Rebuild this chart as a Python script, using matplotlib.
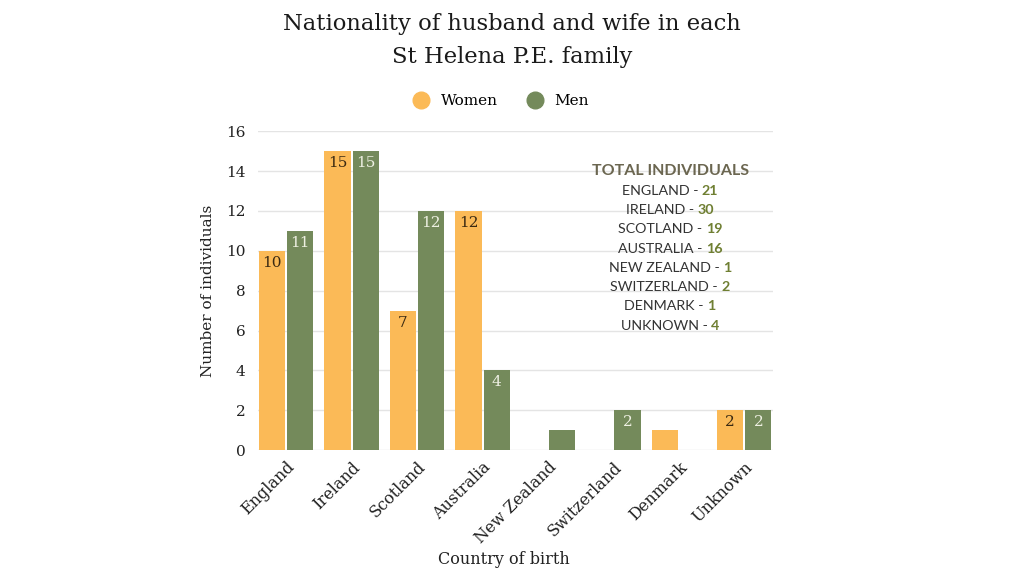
import numpy as np
import matplotlib
matplotlib.use('Agg')
import matplotlib.pyplot as plt
from matplotlib.lines import Line2D
from matplotlib.offsetbox import TextArea, HPacker, VPacker, AnnotationBbox

countries = ['England', 'Ireland', 'Scotland', 'Australia', 'New Zealand',
             'Switzerland', 'Denmark', 'Unknown']
women = [10, 15, 7, 12, 0, 0, 1, 2]
men = [11, 15, 12, 4, 1, 2, 0, 2]
totals_names = ['ENGLAND', 'IRELAND', 'SCOTLAND', 'AUSTRALIA', 'NEW ZEALAND',
                'SWITZERLAND', 'DENMARK', 'UNKNOWN']
totals = [21, 30, 19, 16, 1, 2, 1, 4]

c_women = '#FBBA57'
c_men = '#748A5B'
serif = 'DejaVu Serif'
sans = 'Lato'

fig = plt.figure(figsize=(10.24, 5.78), dpi=100)
ax = fig.add_axes([0.252, 0.221, 0.503, 0.552])

x = np.arange(len(countries))
w = 0.40
off = 0.215
ax.bar(x - off, women, w, color=c_women, zorder=3)
ax.bar(x + off, men, w, color=c_men, zorder=3)

for i in range(len(x)):
    if women[i] >= 2:
        ax.text(x[i] - off, women[i] - 0.6, str(women[i]), ha='center', va='center',
                fontsize=11, family=serif, color='#3b2a12', zorder=4)
    if men[i] >= 2:
        ax.text(x[i] + off, men[i] - 0.6, str(men[i]), ha='center', va='center',
                fontsize=11, family=serif, color='#eef0e2', zorder=4)

ax.set_xlim(-0.43, 7.44)
ax.set_ylim(0, 16)
ax.set_yticks(range(0, 17, 2))
ax.set_xticks(x)
ax.set_xticklabels(countries, rotation=45, ha='right', rotation_mode='anchor',
                   fontsize=11.5, family=serif, color='#222222')
ax.tick_params(axis='y', labelsize=11, colors='#222222', length=0, pad=9)
ax.tick_params(axis='x', length=0, pad=6)
for lab in ax.get_yticklabels():
    lab.set_family(serif)
ax.grid(axis='y', color='#e4e4e4', linewidth=1, zorder=0)
for s in ax.spines.values():
    s.set_visible(False)

ax.set_ylabel('Number of individuals', fontsize=11, family=serif, color='#222222', labelpad=8)
ax.set_xlabel('Country of birth', fontsize=11.5, family=serif, color='#222222')
ax.xaxis.set_label_coords(0.477, -0.315)

fig.text(0.5, 0.958, 'Nationality of husband and wife in each', ha='center', va='center',
         fontsize=16.3, family=serif, color='#1a1a1a')
fig.text(0.5, 0.902, 'St Helena P.E. family', ha='center', va='center',
         fontsize=16.3, family=serif, color='#1a1a1a')

handles = [Line2D([], [], marker='o', linestyle='', markersize=12, color=c_women),
           Line2D([], [], marker='o', linestyle='', markersize=12, color=c_men)]
leg = fig.legend(handles, ['Women', 'Men'], loc='center', bbox_to_anchor=(0.486, 0.825),
                 ncol=2, frameon=False, handletextpad=0.3, columnspacing=1.4,
                 prop={'family': serif, 'size': 11})

# totals box
rows = [TextArea('TOTAL INDIVIDUALS', textprops=dict(family=sans, size=11.5, weight='bold',
                                                     color='#6b6650'))]
for name, val in zip(totals_names, totals):
    rows.append(HPacker(children=[
        TextArea(name + ' - ', textprops=dict(family=sans, size=10.3, color='#333333')),
        TextArea(str(val), textprops=dict(family=sans, size=10.3, weight='bold', color='#6f7f32'))],
        pad=0, sep=0, align='baseline'))
box = VPacker(children=rows, pad=0, sep=5.2, align='center')
ab = AnnotationBbox(box, (0.80, 0.635), xycoords='axes fraction', frameon=False,
                    box_alignment=(0.5, 0.5), zorder=5)
ax.add_artist(ab)

fig.savefig('out.png', dpi=100, facecolor='white')
